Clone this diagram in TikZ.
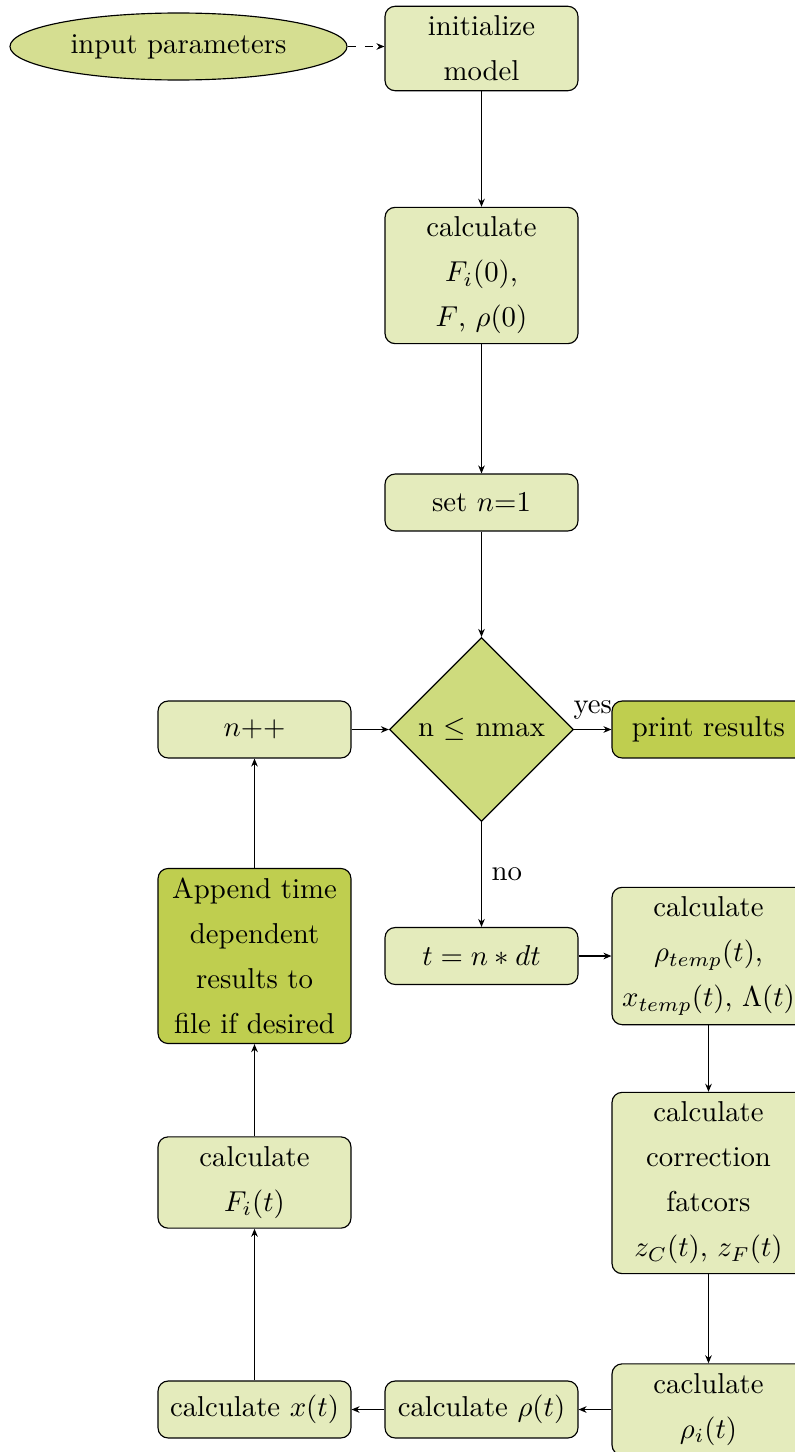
\documentclass[tikz,border=0pt]{standalone}
\usetikzlibrary{shapes.geometric,arrows.meta}
\definecolor{boxlight}{RGB}{228,235,188}
\definecolor{ellfill}{RGB}{213,222,145}
\definecolor{decfill}{RGB}{206,219,125}
\definecolor{boxdark}{RGB}{191,206,79}
\begin{document}
\begin{tikzpicture}[x=0.3478pt,y=-0.3478pt,
  font={\fontsize{10pt}{15.65pt}\selectfont},
  proc/.style={draw, rectangle, rounded corners=3.5pt, fill=boxlight, align=center,
    minimum width=67.1pt, minimum height=19.8pt, inner sep=3.33pt},
  procdark/.style={proc, fill=boxdark},
  ellip/.style={draw, ellipse, fill=ellfill, minimum width=117.2pt, minimum height=23.3pt, inner sep=0pt},
  dec/.style={draw, diamond, aspect=1, fill=decfill, minimum width=64pt, minimum height=64pt, inner sep=0pt},
  arr/.style={-{Stealth[length=2.8pt,width=2.3pt]}}]
\useasboundingbox (0,0) rectangle (795,1452);
\node[ellip] (inp) at (178.5,46.5) {input parameters};
\node[proc] (init) at (481.5,48.5) {initialize\\model};
\node[proc] (calcF) at (481.5,275.5) {calculate\\$F_i(0)$,\\$F$, $\rho(0)$};
\node[proc] (setn) at (481.5,502.5) {set $n$=1};
\node[dec] (dec) at (481.5,729.5) {n $\leq$ nmax};
\node[proc] (inc) at (254.5,729.5) {$n$++};
\node[procdark] (print) at (708.5,729.5) {print results};
\node[proc] (tn) at (481.5,956) {$t = n*dt$};
\node[proc] (rtemp) at (708.5,956) {calculate\\$\rho_{temp}(t)$,\\$x_{temp}(t)$, $\Lambda(t)$};
\node[procdark] (app) at (254.5,956) {Append time\\dependent\\results to\\file if desired};
\node[proc] (corr) at (708.5,1183) {calculate\\correction\\fatcors\\$z_C(t)$, $z_F(t)$};
\node[proc] (Fit) at (254.5,1182.5) {calculate\\$F_i(t)$};
\node[proc] (rhoi) at (708.5,1409.5) {caclulate\\$\rho_i(t)$};
\node[proc] (rho) at (481.5,1409.5) {calculate $\rho(t)$};
\node[proc] (xt) at (254.5,1409.5) {calculate $x(t)$};

\draw[arr,dashed] (inp.east) -- (inp.east -| init.west);
\draw[arr] (init) -- (calcF);
\draw[arr] (calcF) -- (setn);
\draw[arr] (setn) -- (dec);
\draw[arr] (dec) -- node[above]{yes} (print);
\draw[arr] (dec) -- node[right]{no} (tn);
\draw[arr] (tn) -- (rtemp);
\draw[arr] (rtemp) -- (corr);
\draw[arr] (corr) -- (rhoi);
\draw[arr] (rhoi) -- (rho);
\draw[arr] (rho) -- (xt);
\draw[arr] (xt) -- (Fit);
\draw[arr] (Fit) -- (app);
\draw[arr] (app) -- (inc);
\draw[arr] (inc) -- (dec);
\end{tikzpicture}
\end{document}
